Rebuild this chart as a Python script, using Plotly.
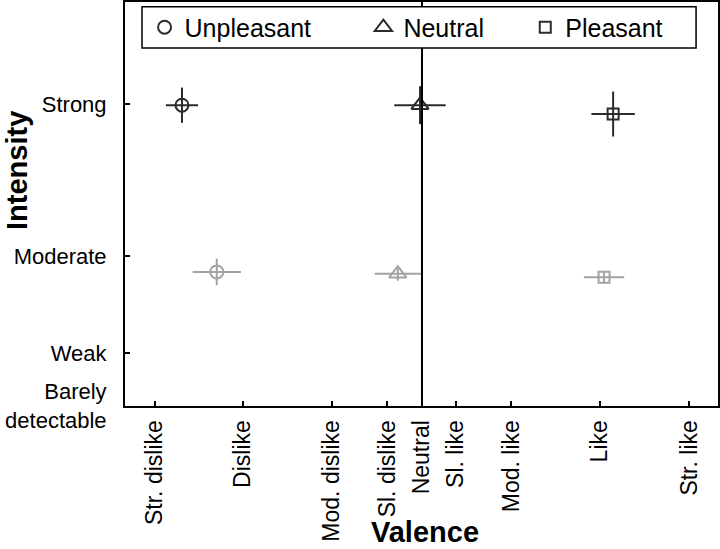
import plotly.graph_objects as go

# valence axis (labelled scale units, Neutral = 0)
valence_labels = ["Str. dislike", "Dislike", "Mod. dislike", "Sl. dislike", "Neutral",
                  "Sl. like", "Mod. like", "Like", "Str. like"]
valence_ticks = [-53, -35.5, -17.9, -6.9, 0, 6.7, 17.7, 35.3, 53]

# intensity axis (gLMS-like units)
intensity_labels = ["Barely<br>detectable", "Weak", "Moderate", "Strong"]
intensity_ticks = [0, 6.0, 17.0, 34.2]

categories = ["Unpleasant", "Neutral", "Pleasant"]
symbols = ["circle-open", "triangle-up-open", "square-open"]
sizes = [13, 15, 11]

# strong-intensity stimuli (dark)
strong_valence = [-47.6, -0.4, 37.9]
strong_valence_err = [3.2, 5.1, 4.3]
strong_intensity = [34.1, 34.1, 33.1]
strong_intensity_err = [2.0, 2.15, 2.55]

# moderate-intensity stimuli (light)
moderate_valence = [-40.7, -4.8, 36.1]
moderate_valence_err = [4.8, 4.6, 4.0]
moderate_intensity = [15.2, 15.0, 14.6]
moderate_intensity_err = [1.5, 0.8, 0.7]

dark = "#2b2b2b"
light = "#a3a3a3"
font = "Liberation Sans, Arial, sans-serif"

fig = go.Figure()
legend_ids = ["legend", "legend2", "legend3"]

for i, cat in enumerate(categories):
    fig.add_trace(go.Scatter(
        x=[moderate_valence[i]], y=[moderate_intensity[i]],
        mode="markers",
        marker=dict(symbol=symbols[i], size=sizes[i], color=light, line=dict(width=2, color=light)),
        error_x=dict(type="data", array=[moderate_valence_err[i]], color=light, thickness=2, width=0),
        error_y=dict(type="data", array=[moderate_intensity_err[i]], color=light, thickness=2, width=0),
        showlegend=False, name=cat,
    ))
    fig.add_trace(go.Scatter(
        x=[strong_valence[i]], y=[strong_intensity[i]],
        mode="markers",
        marker=dict(symbol=symbols[i], size=sizes[i], color=dark, line=dict(width=2, color=dark)),
        error_x=dict(type="data", array=[strong_valence_err[i]], color=dark, thickness=2, width=0),
        error_y=dict(type="data", array=[strong_intensity_err[i]], color=dark, thickness=2, width=0),
        name=cat, legend=legend_ids[i],
    ))

fig.add_vline(x=valence_ticks[4], line_color="black", line_width=2)

legend_x = [0.033, 0.402, 0.675]
legend_common = dict(orientation="h", y=0.937, yanchor="middle", xanchor="left",
                     bgcolor="rgba(0,0,0,0)", borderwidth=0,
                     font=dict(family=font, size=25, color="black"))
fig.update_layout(
    legend=dict(x=legend_x[0], **legend_common),
    legend2=dict(x=legend_x[1], **legend_common),
    legend3=dict(x=legend_x[2], **legend_common),
)
# legend frame (covers the neutral line)
fig.add_shape(type="rect", xref="paper", yref="paper", x0=0.0287, x1=0.963, y0=0.886, y1=0.988,
              line=dict(color="black", width=1.5), fillcolor="white", layer="above")

axis_common = dict(showline=True, linecolor="black", linewidth=2, mirror=True,
                   ticks="inside", ticklen=5, tickwidth=1.5, tickcolor="black",
                   showgrid=False, zeroline=False, automargin=False)

fig.update_xaxes(range=[-58.9, 58.7], tickmode="array", tickvals=valence_ticks,
                 ticktext=valence_labels, tickangle=-90, ticklabelstandoff=3,
                 tickfont=dict(family=font, size=23, color="black"), **axis_common)
fig.update_yaxes(range=[0, 45.8], tickmode="array", tickvals=intensity_ticks,
                 ticktext=intensity_labels, ticklabelstandoff=12,
                 tickfont=dict(family=font, size=22, color="black"), **axis_common)

fig.add_annotation(text="<b>Intensity</b>", xref="paper", yref="paper", x=-0.182, y=0.582,
                   textangle=-90, showarrow=False, xanchor="center", yanchor="middle",
                   font=dict(family=font, size=29, color="black"))
fig.add_annotation(text="<b>Valence</b>", xref="paper", yref="paper", x=0.506, y=-0.312,
                   showarrow=False, xanchor="center", yanchor="middle",
                   font=dict(family=font, size=29, color="black"))

fig.update_layout(
    width=720, height=549,
    margin=dict(l=125, r=2, t=2, b=143),
    plot_bgcolor="white", paper_bgcolor="white",
)

fig.write_html("out.html", config={"displayModeBar": False},
               post_script="document.body.style.margin = '0';")
